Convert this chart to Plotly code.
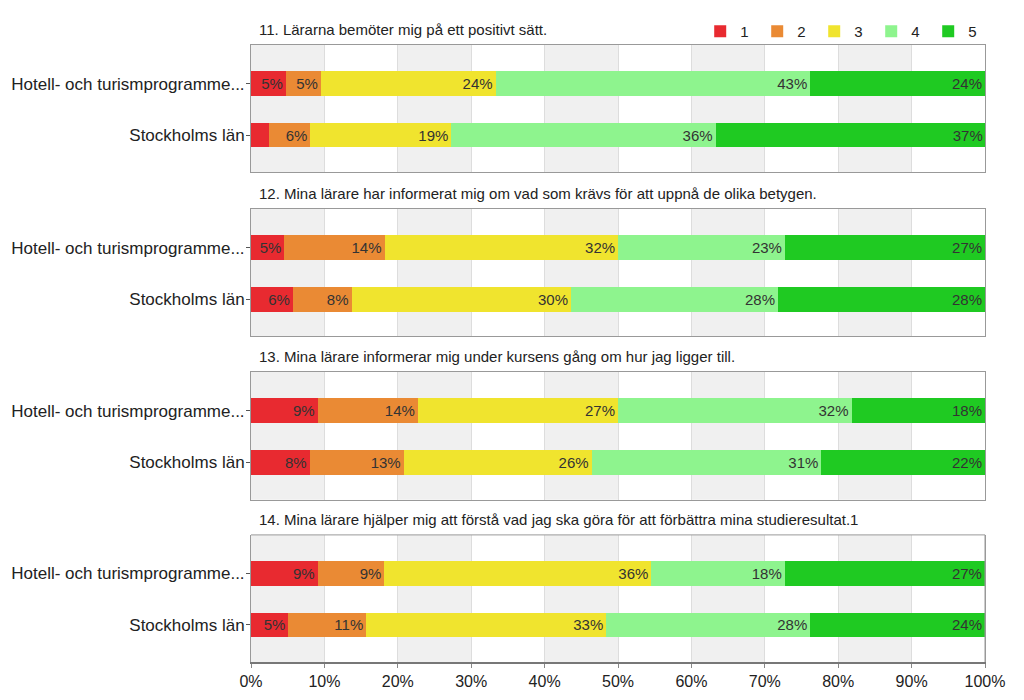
import plotly.graph_objects as go

categories = ["Hotell- och turismprogramme...", "Stockholms län"]
questions = [
    "11. Lärarna bemöter mig på ett positivt sätt.",
    "12. Mina lärare har informerat mig om vad som krävs för att uppnå de olika betygen.",
    "13. Mina lärare informerar mig under kursens gång om hur jag ligger till.",
    "14. Mina lärare hjälper mig att förstå vad jag ska göra för att förbättra mina studieresultat.1",
]
grades = ["1", "2", "3", "4", "5"]
colors = ["#e82a30", "#ea8a34", "#f0e42e", "#8ef48e", "#1fca22"]

# percentage shares per grade 1..5
q11_hotell = [4.76, 4.76, 23.81, 42.86, 23.81]
q11_sthlm = [2.5, 5.6, 19.2, 36.0, 36.8]
q12_hotell = [4.55, 13.64, 31.82, 22.73, 27.27]
q12_sthlm = [5.7, 8.0, 29.9, 28.2, 28.2]
q13_hotell = [9.09, 13.64, 27.27, 31.82, 18.18]
q13_sthlm = [8.0, 12.8, 25.6, 31.3, 22.3]
q14_hotell = [9.09, 9.09, 36.36, 18.18, 27.27]
q14_sthlm = [5.1, 10.6, 32.7, 27.8, 23.8]

hotell_rows = [q11_hotell, q12_hotell, q13_hotell, q14_hotell]
sthlm_rows = [q11_sthlm, q12_sthlm, q13_sthlm, q14_sthlm]
x_ticks = [0, 10, 20, 30, 40, 50, 60, 70, 80, 90, 100]
x_ticktext = [f"{v}%" for v in x_ticks]

# panel domains (paper fractions, bottom->top)
domains = [[0.794, 1.0], [0.528, 0.734], [0.263, 0.470], [0.0, 0.206]]

FONT = "Liberation Sans, Arial, sans-serif"

fig = go.Figure()
for qi in range(4):
    ax = "" if qi == 0 else str(qi + 1)
    for gi in range(5):
        fig.add_trace(go.Bar(
            x=[hotell_rows[qi][gi], sthlm_rows[qi][gi]],
            y=categories,
            orientation="h",
            name=grades[gi],
            legendgroup=grades[gi],
            showlegend=(qi == 0),
            marker=dict(color=colors[gi], line=dict(width=0)),
            width=0.48,
            texttemplate="%{x:.0f}%",
            textposition="inside",
            insidetextanchor="end",
            textfont=dict(size=15, color="#333333", family=FONT),
            xaxis="x" + ax,
            yaxis="y" + ax,
        ))

layout = dict(
    width=1024, height=700,
    margin=dict(l=243, r=47, t=37, b=46, autoexpand=False),
    barmode="stack",
    paper_bgcolor="white",
    plot_bgcolor="white",
    font=dict(family=FONT, color="#222222"),
    uniformtext=dict(minsize=15, mode="hide"),
    showlegend=True,
    legend=dict(
        orientation="h", x=0.612, y=1.022, xanchor="left", yanchor="middle",
        entrywidth=12, entrywidthmode="pixels",
        font=dict(size=15, color="#222222"), bgcolor="rgba(0,0,0,0)",
        traceorder="normal",
    ),
)

shapes = []
annotations = []
for qi in range(4):
    ax = "" if qi == 0 else str(qi + 1)
    xname = "xaxis" + ax
    yname = "yaxis" + ax
    layout[xname] = dict(
        domain=[0, 1], range=[0, 100], tickmode="array",
        tickvals=x_ticks, ticktext=x_ticktext,
        showticklabels=(qi == 3), tickfont=dict(size=16, color="#222222"),
        ticks="outside" if qi == 3 else "", ticklen=4, tickcolor="#888888",
        showgrid=True, gridcolor="#dddddd", gridwidth=1,
        showline=True, linecolor="#999999", linewidth=1, mirror=True,
        zeroline=False, anchor="y" + ax, fixedrange=True, automargin=False,
    )
    if qi == 3:
        layout[xname]["linecolor"] = "#777777"
        layout[xname]["linewidth"] = 2
        layout[xname]["mirror"] = False
    layout[yname] = dict(
        domain=domains[qi], type="category", categoryorder="array",
        categoryarray=categories, range=[1.72, -0.75],
        tickfont=dict(size=17, color="#222222"),
        ticks="outside", ticklen=4, tickcolor="#555555",
        ticklabelstandoff=-2,
        showline=True, linecolor="#999999", linewidth=1, mirror=True,
        showgrid=False, anchor="x" + ax, fixedrange=True, automargin=False,
    )
    # alternating vertical background bands
    for k in range(0, len(x_ticks) - 1, 2):
        shapes.append(dict(
            type="rect", xref="x" + ax, yref="y" + ax + " domain",
            x0=x_ticks[k], x1=x_ticks[k + 1], y0=0, y1=1,
            fillcolor="#f0f0f0", line=dict(width=0), layer="below",
        ))
    annotations.append(dict(
        text=questions[qi], xref="x" + ax + " domain", yref="y" + ax + " domain",
        x=0.008, y=1, xanchor="left", yanchor="bottom", yshift=5,
        showarrow=False, font=dict(size=15, color="#222222"),
    ))

# top and right border lines for the last panel (mirror disabled there)
shapes.append(dict(type="line", xref="x4 domain", yref="y4 domain",
                   x0=0, x1=1, y0=1, y1=1, line=dict(color="#999999", width=1)))
shapes.append(dict(type="line", xref="x4 domain", yref="y4 domain",
                   x0=1, x1=1, y0=0, y1=1, line=dict(color="#999999", width=1)))

layout["shapes"] = shapes
layout["annotations"] = annotations
fig.update_layout(**layout)
fig.write_html("out.html")
